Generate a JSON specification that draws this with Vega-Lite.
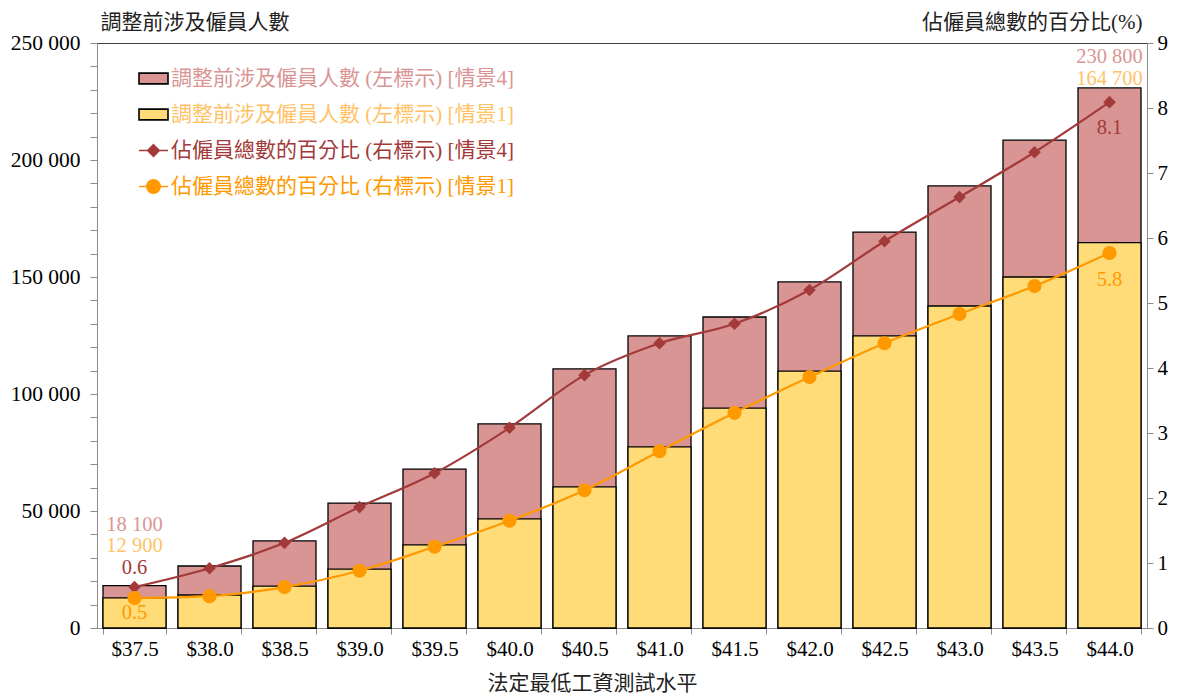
{
  "$schema": "https://vega.github.io/schema/vega-lite/v6.json",
  "width": 1050,
  "height": 585,
  "autosize": {"type": "none"},
  "padding": {"left": 97, "top": 43, "right": 30, "bottom": 65},
  "background": "white",
  "config": {
    "font": "Liberation Serif, Noto Sans CJK TC",
    "locale": {"number": {"decimal": ".", "thousands": " ", "grouping": [3], "currency": ["$", ""]}},
    "view": {"stroke": "#404040", "strokeWidth": 1},
    "axis": {
      "labelFont": "Liberation Serif, Noto Sans CJK TC",
      "labelFontSize": 21,
      "labelColor": "#000",
      "titleFont": "Liberation Serif, Noto Sans CJK TC",
      "titleFontSize": 21,
      "titleFontWeight": "normal",
      "titleColor": "#222",
      "domainColor": "#8c8c8c",
      "tickColor": "#8c8c8c",
      "grid": false
    },
    "text": {"font": "Liberation Serif, Noto Sans CJK TC", "fontSize": 20.5}
  },
  "datasets": {
    "bars": [
      {"wage": "$37.5", "series": "調整前涉及僱員人數 (左標示) [情景4]", "count": 18100},
      {"wage": "$38.0", "series": "調整前涉及僱員人數 (左標示) [情景4]", "count": 26500},
      {"wage": "$38.5", "series": "調整前涉及僱員人數 (左標示) [情景4]", "count": 37200},
      {"wage": "$39.0", "series": "調整前涉及僱員人數 (左標示) [情景4]", "count": 53400},
      {"wage": "$39.5", "series": "調整前涉及僱員人數 (左標示) [情景4]", "count": 67900},
      {"wage": "$40.0", "series": "調整前涉及僱員人數 (左標示) [情景4]", "count": 87200},
      {"wage": "$40.5", "series": "調整前涉及僱員人數 (左標示) [情景4]", "count": 110700},
      {"wage": "$41.0", "series": "調整前涉及僱員人數 (左標示) [情景4]", "count": 124800},
      {"wage": "$41.5", "series": "調整前涉及僱員人數 (左標示) [情景4]", "count": 132900},
      {"wage": "$42.0", "series": "調整前涉及僱員人數 (左標示) [情景4]", "count": 147900},
      {"wage": "$42.5", "series": "調整前涉及僱員人數 (左標示) [情景4]", "count": 169200},
      {"wage": "$43.0", "series": "調整前涉及僱員人數 (左標示) [情景4]", "count": 188900},
      {"wage": "$43.5", "series": "調整前涉及僱員人數 (左標示) [情景4]", "count": 208500},
      {"wage": "$44.0", "series": "調整前涉及僱員人數 (左標示) [情景4]", "count": 230800},
      {"wage": "$37.5", "series": "調整前涉及僱員人數 (左標示) [情景1]", "count": 12900},
      {"wage": "$38.0", "series": "調整前涉及僱員人數 (左標示) [情景1]", "count": 14100},
      {"wage": "$38.5", "series": "調整前涉及僱員人數 (左標示) [情景1]", "count": 17900},
      {"wage": "$39.0", "series": "調整前涉及僱員人數 (左標示) [情景1]", "count": 25200},
      {"wage": "$39.5", "series": "調整前涉及僱員人數 (左標示) [情景1]", "count": 35500},
      {"wage": "$40.0", "series": "調整前涉及僱員人數 (左標示) [情景1]", "count": 46600},
      {"wage": "$40.5", "series": "調整前涉及僱員人數 (左標示) [情景1]", "count": 60300},
      {"wage": "$41.0", "series": "調整前涉及僱員人數 (左標示) [情景1]", "count": 77400},
      {"wage": "$41.5", "series": "調整前涉及僱員人數 (左標示) [情景1]", "count": 94000},
      {"wage": "$42.0", "series": "調整前涉及僱員人數 (左標示) [情景1]", "count": 109800},
      {"wage": "$42.5", "series": "調整前涉及僱員人數 (左標示) [情景1]", "count": 124800},
      {"wage": "$43.0", "series": "調整前涉及僱員人數 (左標示) [情景1]", "count": 137600},
      {"wage": "$43.5", "series": "調整前涉及僱員人數 (左標示) [情景1]", "count": 150000},
      {"wage": "$44.0", "series": "調整前涉及僱員人數 (左標示) [情景1]", "count": 164700}
    ],
    "lines": [
      {"wage": "$37.5", "series": "佔僱員總數的百分比 (右標示) [情景4]", "pct": 0.63},
      {"wage": "$38.0", "series": "佔僱員總數的百分比 (右標示) [情景4]", "pct": 0.92},
      {"wage": "$38.5", "series": "佔僱員總數的百分比 (右標示) [情景4]", "pct": 1.31},
      {"wage": "$39.0", "series": "佔僱員總數的百分比 (右標示) [情景4]", "pct": 1.86},
      {"wage": "$39.5", "series": "佔僱員總數的百分比 (右標示) [情景4]", "pct": 2.38},
      {"wage": "$40.0", "series": "佔僱員總數的百分比 (右標示) [情景4]", "pct": 3.08},
      {"wage": "$40.5", "series": "佔僱員總數的百分比 (右標示) [情景4]", "pct": 3.89},
      {"wage": "$41.0", "series": "佔僱員總數的百分比 (右標示) [情景4]", "pct": 4.38},
      {"wage": "$41.5", "series": "佔僱員總數的百分比 (右標示) [情景4]", "pct": 4.68},
      {"wage": "$42.0", "series": "佔僱員總數的百分比 (右標示) [情景4]", "pct": 5.2},
      {"wage": "$42.5", "series": "佔僱員總數的百分比 (右標示) [情景4]", "pct": 5.95},
      {"wage": "$43.0", "series": "佔僱員總數的百分比 (右標示) [情景4]", "pct": 6.63},
      {"wage": "$43.5", "series": "佔僱員總數的百分比 (右標示) [情景4]", "pct": 7.32},
      {"wage": "$44.0", "series": "佔僱員總數的百分比 (右標示) [情景4]", "pct": 8.09},
      {"wage": "$37.5", "series": "佔僱員總數的百分比 (右標示) [情景1]", "pct": 0.46},
      {"wage": "$38.0", "series": "佔僱員總數的百分比 (右標示) [情景1]", "pct": 0.49},
      {"wage": "$38.5", "series": "佔僱員總數的百分比 (右標示) [情景1]", "pct": 0.63},
      {"wage": "$39.0", "series": "佔僱員總數的百分比 (右標示) [情景1]", "pct": 0.88},
      {"wage": "$39.5", "series": "佔僱員總數的百分比 (右標示) [情景1]", "pct": 1.25},
      {"wage": "$40.0", "series": "佔僱員總數的百分比 (右標示) [情景1]", "pct": 1.65},
      {"wage": "$40.5", "series": "佔僱員總數的百分比 (右標示) [情景1]", "pct": 2.12},
      {"wage": "$41.0", "series": "佔僱員總數的百分比 (右標示) [情景1]", "pct": 2.72},
      {"wage": "$41.5", "series": "佔僱員總數的百分比 (右標示) [情景1]", "pct": 3.31},
      {"wage": "$42.0", "series": "佔僱員總數的百分比 (右標示) [情景1]", "pct": 3.86},
      {"wage": "$42.5", "series": "佔僱員總數的百分比 (右標示) [情景1]", "pct": 4.38},
      {"wage": "$43.0", "series": "佔僱員總數的百分比 (右標示) [情景1]", "pct": 4.83},
      {"wage": "$43.5", "series": "佔僱員總數的百分比 (右標示) [情景1]", "pct": 5.26},
      {"wage": "$44.0", "series": "佔僱員總數的百分比 (右標示) [情景1]", "pct": 5.77}
    ]
  },
  "encoding": {
    "x": {
      "field": "wage",
      "type": "nominal",
      "sort": null,
      "scale": {"paddingInner": 0.16, "paddingOuter": 0.08},
      "axis": {
        "labelAngle": 0,
        "tickBand": "extent",
        "tickSize": 6,
        "labelPadding": 4,
        "title": "法定最低工資測試水平",
        "titleX": 495,
        "titleY": 55,
        "titleAlign": "center",
        "titleBaseline": "middle"
      }
    }
  },
  "layer": [
    {
      "data": {"name": "bars"},
      "encoding": {
        "y": {
          "field": "count",
          "type": "quantitative",
          "stack": null,
          "scale": {"domain": [0, 250000], "nice": false},
          "axis": {
            "orient": "left",
            "values": [0, 10000, 20000, 30000, 40000, 50000, 60000, 70000, 80000, 90000, 100000, 110000, 120000, 130000, 140000, 150000, 160000, 170000, 180000, 190000, 200000, 210000, 220000, 230000, 240000, 250000],
            "labelExpr": "datum.value % 50000 === 0 ? replace(format(datum.value, ','), ',', ' ') : ''",
            "labelFontSize": 21.5,
            "tickSize": 7,
            "labelPadding": 10,
            "title": "調整前涉及僱員人數",
            "titleAngle": 0,
            "titleAlign": "left",
            "titleBaseline": "middle",
            "titleX": 3,
            "titleY": -21
          }
        }
      },
      "layer": [
        {
          "mark": {"type": "bar", "stroke": "#000", "strokeWidth": 1.3},
          "encoding": {
            "color": {
              "field": "series",
              "type": "nominal",
              "scale": {
                "domain": ["調整前涉及僱員人數 (左標示) [情景4]", "調整前涉及僱員人數 (左標示) [情景1]", "佔僱員總數的百分比 (右標示) [情景4]", "佔僱員總數的百分比 (右標示) [情景1]"],
                "range": ["#D99594", "#FFDC78", "#A33A3A", "#FF9900"]
              },
              "legend": {
                "title": null,
                "orient": "none",
                "legendX": 41,
                "legendY": 20,
                "labelFont": "Liberation Serif, Noto Sans CJK TC",
                "labelFontSize": 21,
                "labelLimit": 0,
                "symbolSize": 841,
                "symbolStrokeWidth": 1.6,
                "rowPadding": 10,
                "labelOffset": 2,
                "labelColor": {"expr": "datum.index === 0 ? '#D99594' : (datum.index === 1 ? '#FFC266' : (datum.index === 2 ? '#A33A3A' : '#FF9900'))"}
              }
            }
          }
        },
        {
          "transform": [{"filter": "false"}],
          "mark": {"type": "point", "filled": true, "opacity": 1},
          "encoding": {
            "color": {"field": "series", "type": "nominal"},
            "shape": {
              "field": "series",
              "type": "nominal",
              "scale": {
                "domain": ["調整前涉及僱員人數 (左標示) [情景4]", "調整前涉及僱員人數 (左標示) [情景1]", "佔僱員總數的百分比 (右標示) [情景4]", "佔僱員總數的百分比 (右標示) [情景1]"],
                "range": ["M-1,-0.37H1V0.37H-1Z", "M-1,-0.37H1V0.37H-1Z", "M-1,0H1M0,-0.4L0.4,0L0,0.4L-0.4,0Z", "M-1,0H1M0.46,0A0.46,0.46,0,1,1,-0.46,0A0.46,0.46,0,1,1,0.46,0Z"]
              }
            },
            "stroke": {
              "field": "series",
              "type": "nominal",
              "scale": {
                "domain": ["調整前涉及僱員人數 (左標示) [情景4]", "調整前涉及僱員人數 (左標示) [情景1]", "佔僱員總數的百分比 (右標示) [情景4]", "佔僱員總數的百分比 (右標示) [情景1]"],
                "range": ["#000000", "#000000", "#A33A3A", "#FF9900"]
              }
            }
          }
        },
        {
          "transform": [{"filter": "datum.wage === '$37.5' && datum.series === '調整前涉及僱員人數 (左標示) [情景4]'"}],
          "mark": {"type": "text", "dy": -61, "color": "#D99594", "baseline": "middle"},
          "encoding": {"text": {"field": "count", "type": "quantitative", "format": ","}}
        },
        {
          "transform": [{"filter": "datum.wage === '$37.5' && datum.series === '調整前涉及僱員人數 (左標示) [情景1]'"}],
          "mark": {"type": "text", "dy": -52, "color": "#FFC266", "baseline": "middle"},
          "encoding": {"text": {"field": "count", "type": "quantitative", "format": ","}}
        },
        {
          "transform": [{"filter": "datum.wage === '$44.0' && datum.series === '調整前涉及僱員人數 (左標示) [情景4]'"}],
          "mark": {"type": "text", "dy": -31, "color": "#D99594", "baseline": "middle"},
          "encoding": {"text": {"field": "count", "type": "quantitative", "format": ","}}
        },
        {
          "transform": [{"filter": "datum.wage === '$44.0' && datum.series === '調整前涉及僱員人數 (左標示) [情景1]'"}],
          "mark": {"type": "text", "dy": -164, "color": "#FFC266", "baseline": "middle"},
          "encoding": {"text": {"field": "count", "type": "quantitative", "format": ","}}
        }
      ]
    },
    {
      "data": {"name": "lines"},
      "encoding": {
        "y": {
          "field": "pct",
          "type": "quantitative",
          "scale": {"domain": [0, 9], "nice": false},
          "axis": {
            "orient": "right",
            "values": [0, 1, 2, 3, 4, 5, 6, 7, 8, 9],
            "format": "d",
            "tickSize": 6,
            "labelPadding": 4,
            "title": "佔僱員總數的百分比(%)",
            "titleAngle": 0,
            "titleAlign": "right",
            "titleBaseline": "middle",
            "titleX": -5,
            "titleY": -21
          }
        }
      },
      "layer": [
        {
          "transform": [{"filter": "datum.series === '佔僱員總數的百分比 (右標示) [情景4]'"}],
          "mark": {"type": "line", "interpolate": "monotone", "strokeWidth": 2.2, "color": "#A33A3A"},
          "encoding": {}
        },
        {
          "transform": [{"filter": "datum.series === '佔僱員總數的百分比 (右標示) [情景1]'"}],
          "mark": {"type": "line", "interpolate": "monotone", "strokeWidth": 2.2, "color": "#FF9900"},
          "encoding": {}
        },
        {
          "transform": [{"filter": "datum.series === '佔僱員總數的百分比 (右標示) [情景4]'"}],
          "mark": {"type": "point", "shape": "diamond", "filled": true, "opacity": 1, "size": 160, "color": "#A33A3A"},
          "encoding": {}
        },
        {
          "transform": [{"filter": "datum.series === '佔僱員總數的百分比 (右標示) [情景1]'"}],
          "mark": {"type": "point", "shape": "circle", "filled": true, "opacity": 1, "size": 200, "color": "#FF9900"},
          "encoding": {}
        },
        {
          "transform": [{"filter": "datum.wage === '$37.5' && datum.series === '佔僱員總數的百分比 (右標示) [情景4]'"}],
          "mark": {"type": "text", "dy": -19, "color": "#A33A3A", "baseline": "middle"},
          "encoding": {"text": {"field": "pct", "type": "quantitative", "format": ".1f"}}
        },
        {
          "transform": [{"filter": "datum.wage === '$37.5' && datum.series === '佔僱員總數的百分比 (右標示) [情景1]'"}],
          "mark": {"type": "text", "dy": 15, "color": "#FF9900", "baseline": "middle"},
          "encoding": {"text": {"field": "pct", "type": "quantitative", "format": ".1f"}}
        },
        {
          "transform": [{"filter": "datum.wage === '$44.0' && datum.series === '佔僱員總數的百分比 (右標示) [情景4]'"}],
          "mark": {"type": "text", "dy": 26, "color": "#A33A3A", "baseline": "middle"},
          "encoding": {"text": {"field": "pct", "type": "quantitative", "format": ".1f"}}
        },
        {
          "transform": [{"filter": "datum.wage === '$44.0' && datum.series === '佔僱員總數的百分比 (右標示) [情景1]'"}],
          "mark": {"type": "text", "dy": 27, "color": "#FF9900", "baseline": "middle"},
          "encoding": {"text": {"field": "pct", "type": "quantitative", "format": ".1f"}}
        }
      ]
    }
  ],
  "resolve": {"scale": {"y": "independent"}}
}
